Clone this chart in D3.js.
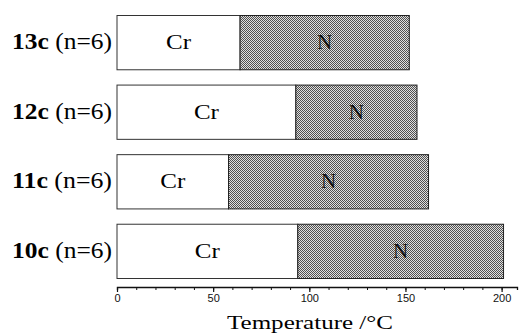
<!DOCTYPE html>
<html>
<head>
<meta charset="utf-8">
<script src="https://cdn.jsdelivr.net/npm/d3@7"></script>
<style>
  body { margin: 0; background: #fff; }
  svg { display: block; }
</style>
</head>
<body>
<div id="chart"></div>
<script>
// data (temperatures in °C)
const compounds = ['13c', '12c', '11c', '10c'];
const chainNote = ['(n=6)', '(n=6)', '(n=6)', '(n=6)'];
const meltPoint = [64, 93, 58, 94];      // Cr -> N
const clearPoint = [152, 156, 162, 201]; // N -> I
const xTicks = [0, 50, 100, 150, 200];

const width = 520, height = 334;
const margin = { top: 15, right: 3, bottom: 56, left: 117 };

const svg = d3.select('#chart').append('svg')
  .attr('width', width)
  .attr('height', height);

// dithered grey fill like the scanned figure
const defs = svg.append('defs');
const pat = defs.append('pattern')
  .attr('id', 'dither')
  .attr('width', 2).attr('height', 2)
  .attr('patternUnits', 'userSpaceOnUse');
pat.append('rect').attr('width', 2).attr('height', 2).attr('fill', '#e0e0e0');
pat.append('rect').attr('width', 1).attr('height', 1).attr('fill', '#505050');
pat.append('rect').attr('x', 1).attr('y', 1).attr('width', 1).attr('height', 1).attr('fill', '#505050');

const x = d3.scaleLinear()
  .domain([0, 208])
  .range([margin.left, width - margin.right]);

const y = d3.scaleBand()
  .domain(compounds)
  .range([margin.top, 278])
  .paddingInner(0.22)
  .paddingOuter(0);

const rows = compounds.map((c, i) => ({
  c, note: chainNote[i], cr: meltPoint[i], n: clearPoint[i]
}));

const g = svg.append('g');

// Cr segment
g.selectAll('rect.cr')
  .data(rows)
  .join('rect')
    .attr('class', 'cr')
    .attr('x', x(0))
    .attr('y', d => y(d.c) + 0.5)
    .attr('width', d => x(d.cr) - x(0))
    .attr('height', y.bandwidth())
    .attr('fill', '#fff')
    .attr('stroke', '#333')
    .attr('stroke-width', 1);

// N segment
g.selectAll('rect.n')
  .data(rows)
  .join('rect')
    .attr('class', 'n')
    .attr('x', d => x(d.cr))
    .attr('y', d => y(d.c) + 0.5)
    .attr('width', d => x(d.n) - x(d.cr))
    .attr('height', y.bandwidth())
    .attr('fill', 'url(#dither)')
    .attr('stroke', '#222')
    .attr('stroke-width', 1);

const serif = '"Liberation Serif", "Times New Roman", serif';

// phase labels
g.selectAll('text.crl')
  .data(rows)
  .join('text')
    .attr('x', d => (x(0) + x(d.cr)) / 2)
    .attr('y', d => y(d.c) + y.bandwidth() / 2 + 7)
    .attr('text-anchor', 'middle')
    .attr('font-family', serif)
    .attr('font-size', 21)
    .attr('textLength', 25)
    .attr('lengthAdjust', 'spacingAndGlyphs')
    .text('Cr');

g.selectAll('text.nl')
  .data(rows)
  .join('text')
    .attr('x', d => (x(d.cr) + x(d.n)) / 2)
    .attr('y', d => y(d.c) + y.bandwidth() / 2 + 7)
    .attr('text-anchor', 'middle')
    .attr('font-family', serif)
    .attr('font-size', 21)
    .attr('fill', '#111')
    .text('N');

// row labels: bold compound + normal n
const lbl = g.selectAll('text.row')
  .data(rows)
  .join('text')
    .attr('x', 112)
    .attr('y', d => y(d.c) + y.bandwidth() / 2 + 7)
    .attr('text-anchor', 'end')
    .attr('font-family', serif)
    .attr('font-size', 23)
    .attr('textLength', 100)
    .attr('lengthAdjust', 'spacingAndGlyphs');
lbl.append('tspan').attr('font-weight', 'bold').text(d => d.c);
lbl.append('tspan').text(d => ' ' + d.note);

// x axis
const axisY = 287;
const axis = svg.append('g')
  .attr('transform', `translate(0,${axisY})`)
  .call(d3.axisBottom(x).tickValues(d3.range(0, 210, 10)).tickSize(3).tickFormat(''));
axis.select('.domain').attr('stroke', '#111').attr('stroke-width', 1.3);
axis.selectAll('.tick line').attr('stroke', '#111');

const major = svg.append('g')
  .attr('transform', `translate(0,${axisY})`)
  .call(d3.axisBottom(x).tickValues(xTicks).tickSize(5).tickPadding(2));
major.select('.domain').remove();
major.selectAll('.tick line').attr('stroke', '#111').attr('stroke-width', 1.2);
major.selectAll('.tick text')
  .attr('font-family', '"Liberation Sans", Arial, sans-serif')
  .attr('font-size', 11)
  .attr('fill', '#111');

svg.append('text')
  .attr('x', 310)
  .attr('y', 329)
  .attr('text-anchor', 'middle')
  .attr('font-family', serif)
  .attr('font-size', 18)
  .attr('textLength', 166)
  .attr('lengthAdjust', 'spacingAndGlyphs')
  .text('Temperature /°C');
</script>
</body>
</html>
